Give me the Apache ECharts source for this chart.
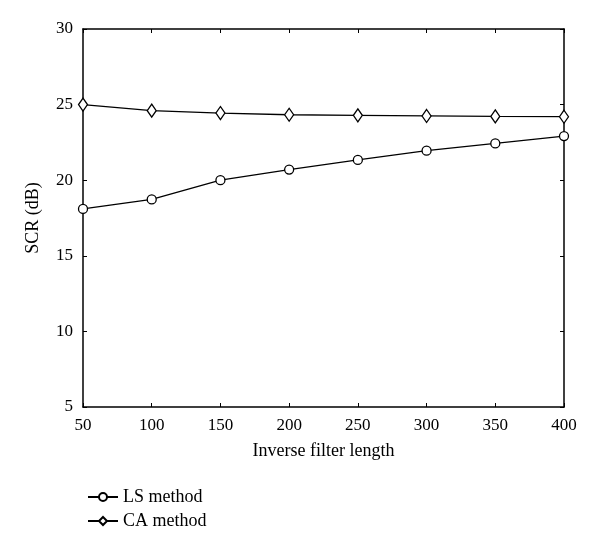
<!DOCTYPE html>
<html>
<head>
<meta charset="utf-8">
<script src="https://cdn.jsdelivr.net/npm/echarts@6/dist/echarts.min.js"></script>
<style>
  html, body { margin: 0; padding: 0; background: #fff; }
  #chart { width: 600px; height: 550px; }
</style>
</head>
<body>
<div id="chart"></div>
<script>
// filter lengths on the x axis
var lengths = [50, 100, 150, 200, 250, 300, 350, 400];
// SCR (dB) values
var lsValues = [18.1, 18.73, 20.0, 20.7, 21.34, 21.95, 22.43, 22.92];
var caValues = [25.0, 24.6, 24.44, 24.33, 24.29, 24.25, 24.22, 24.2];
var seriesNames = ['LS method', 'CA method'];

var font = 'Liberation Serif';

function pairs(xs, ys) {
    var out = [];
    xs.forEach(function (x, i) {
        out.push([x, ys[i]]);
    });
    return out;
}

var myChart = echarts.init(document.getElementById('chart'));

var lineStyle = { color: '#000', width: 1.3 };
var itemStyle = { color: '#fff', borderColor: '#000', borderWidth: 1.3 };

var option = {
    animation: false,
    textStyle: { fontFamily: font, color: '#000' },
    grid: { left: 83, right: 36, top: 29, bottom: 143 },
    legend: {
        orient: 'vertical',
        left: 82,
        top: 483,
        itemWidth: 30,
        itemHeight: 10,
        itemGap: 6,
        textStyle: { fontFamily: font, fontSize: 18, color: '#000' },
        data: seriesNames
    },
    xAxis: [{
        type: 'value',
        min: 50, max: 400, interval: 50,
        name: 'Inverse filter length',
        nameLocation: 'middle',
        nameGap: 35,
        nameTextStyle: { fontFamily: font, fontSize: 18, color: '#000' },
        axisLine: { lineStyle: { color: '#000', width: 1.5 } },
        axisTick: { inside: true, length: 4, lineStyle: { color: '#000' } },
        axisLabel: { fontFamily: font, fontSize: 17, color: '#000', margin: 10 },
        splitLine: { show: false }
    }, {
        type: 'value',
        position: 'top',
        min: 50, max: 400, interval: 50,
        axisLine: { lineStyle: { color: '#000', width: 1.5 } },
        axisTick: { inside: true, length: 4, lineStyle: { color: '#000' } },
        axisLabel: { show: false },
        splitLine: { show: false }
    }],
    yAxis: [{
        type: 'value',
        min: 5, max: 30, interval: 5,
        name: 'SCR (dB)',
        nameLocation: 'middle',
        nameGap: 41,
        nameTextStyle: { fontFamily: font, fontSize: 18, color: '#000' },
        axisLine: { show: true, lineStyle: { color: '#000', width: 1.5 } },
        axisTick: { show: true, inside: true, length: 4, lineStyle: { color: '#000' } },
        axisLabel: { fontFamily: font, fontSize: 17, color: '#000', margin: 10 },
        splitLine: { show: false }
    }, {
        type: 'value',
        position: 'right',
        min: 5, max: 30, interval: 5,
        axisLine: { show: true, lineStyle: { color: '#000', width: 1.5 } },
        axisTick: { show: true, inside: true, length: 4, lineStyle: { color: '#000' } },
        axisLabel: { show: false },
        splitLine: { show: false }
    }],
    series: [{
        name: seriesNames[0],
        type: 'line',
        data: pairs(lengths, lsValues),
        symbol: 'circle',
        symbolSize: 9,
        showAllSymbol: true,
        lineStyle: lineStyle,
        itemStyle: itemStyle
    }, {
        name: seriesNames[1],
        type: 'line',
        data: pairs(lengths, caValues),
        symbol: 'diamond',
        symbolSize: [9, 13],
        showAllSymbol: true,
        lineStyle: lineStyle,
        itemStyle: itemStyle
    }]
};

myChart.setOption(option);
</script>
</body>
</html>
